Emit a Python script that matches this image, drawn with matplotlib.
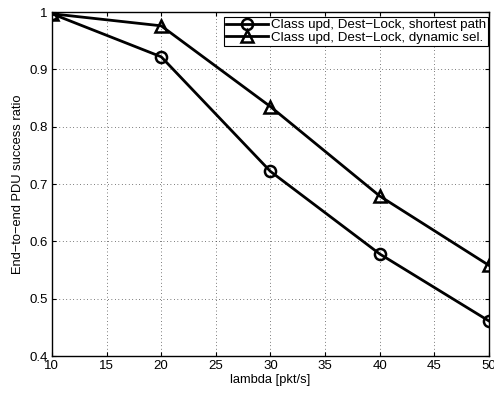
import matplotlib
matplotlib.use("Agg")
import matplotlib.pyplot as plt

plt.rcParams['font.family'] = ['Liberation Sans', 'DejaVu Sans']

lam = [10, 20, 30, 40, 50]
shortest = [0.997, 0.922, 0.722, 0.578, 0.461]
dynamic = [0.997, 0.976, 0.835, 0.679, 0.558]
labels = ["Class upd, Dest\u2212Lock, shortest path",
          "Class upd, Dest\u2212Lock, dynamic sel."]
xticks = [10, 15, 20, 25, 30, 35, 40, 45, 50]
yticks = [0.4, 0.5, 0.6, 0.7, 0.8, 0.9, 1.0]
yticklabels = ["0.4", "0.5", "0.6", "0.7", "0.8", "0.9", "1"]

fig = plt.figure(figsize=(4.94, 3.94), dpi=100)
ax = fig.add_axes([0.105, 0.0964, 0.885, 0.873])

ax.plot(lam, shortest, color='black', lw=2, marker='o', ms=8,
        mfc='none', mec='black', mew=1.8, label=labels[0])
ax.plot(lam, dynamic, color='black', lw=2, marker='^', ms=8.5,
        mfc='none', mec='black', mew=1.8, label=labels[1])

ax.set_xlim(10, 50)
ax.set_ylim(0.4, 1.0)
ax.set_xticks(xticks)
ax.set_yticks(yticks)
ax.set_yticklabels(yticklabels)
ax.tick_params(direction='in', length=3, labelsize=9.5, top=True, right=True,
               width=0.8, pad=3)
ax.grid(True, linestyle=(0, (1, 4)), color='black', linewidth=0.5)
for s in ax.spines.values():
    s.set_linewidth(1.0)

ax.set_xlabel("lambda [pkt/s]", fontsize=9.3, labelpad=1)
ax.set_ylabel("End\u2212to\u2212end PDU success ratio", fontsize=9.3, labelpad=4)

leg = ax.legend(loc='upper right', bbox_to_anchor=(0.998, 0.986),
                fontsize=9.6, fancybox=False, framealpha=1,
                edgecolor='black', borderpad=0.15, labelspacing=0.0,
                handlelength=3.2, handletextpad=0.2, borderaxespad=0)
leg.get_frame().set_linewidth(0.8)

fig.savefig("out.png", dpi=100)
